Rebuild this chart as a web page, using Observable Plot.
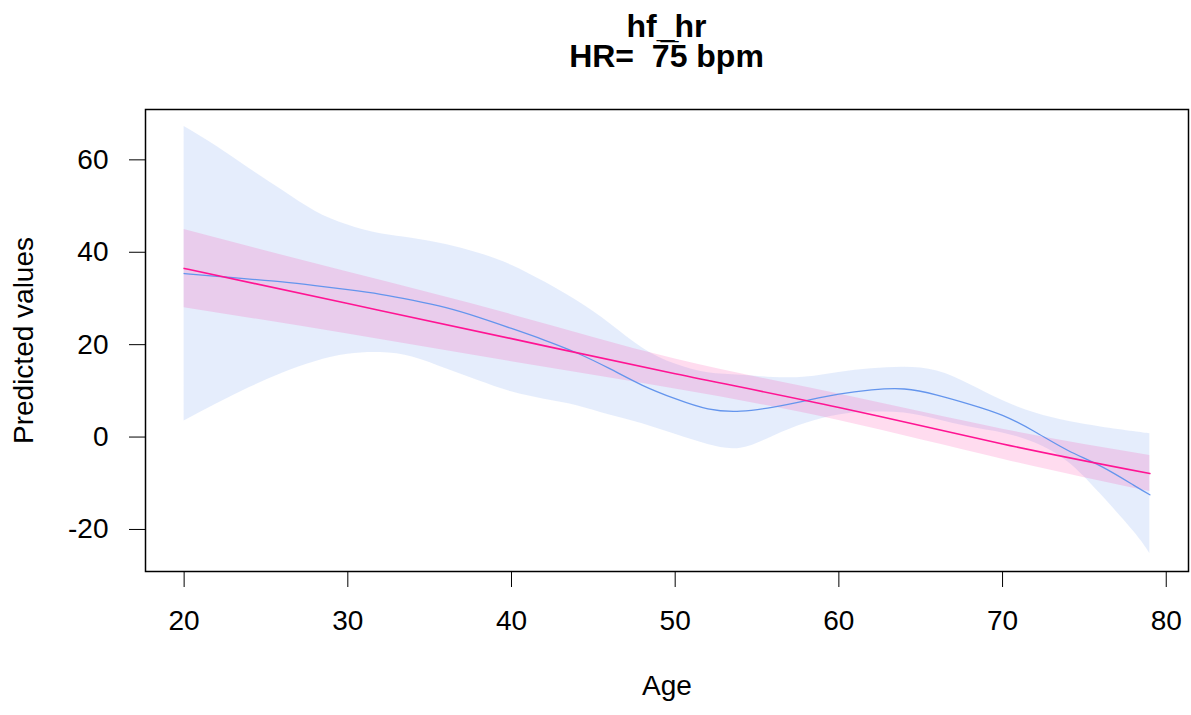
<!DOCTYPE html>
<html>
<head>
<meta charset="utf-8">
<script src="https://cdn.jsdelivr.net/npm/d3@7"></script>
<script src="https://cdn.jsdelivr.net/npm/@observablehq/plot@0.6"></script>
<style>
  html, body { margin: 0; padding: 0; background: #fff; }
  #wrap { position: relative; width: 1191px; height: 715px; font-family: "Liberation Sans", Arial, sans-serif; }
  #title { position: absolute; left: 145px; top: 11px; width: 1043px; text-align: center; font-weight: bold; font-size: 32px; line-height: 30px; color: #000; white-space: pre; }
  #chart { position: absolute; left: 0; top: 80px; }
</style>
</head>
<body>
<div id="wrap">
  <div id="title">hf_hr<br>HR=  7&#x0305;5 bpm</div>
  <div id="chart"></div>
</div>
<script>
// Smooth (spline) fit: ages, predicted values, confidence limits
const blueAge = [20,22,24,26,28,30,32,34,36,38,40,42,44,46,48,50,52,54,56,58,60,62,64,66,68,70,72,74,76,78,79];
const blueFit = [35.4,34.8,34.2,33.6,32.8,31.9,30.9,29.6,28.0,25.9,23.5,21.0,18.2,14.8,11.2,8.3,6.1,5.6,6.5,7.9,9.3,10.2,10.4,9.1,7.1,4.7,1.1,-2.9,-6.3,-10.4,-12.5];
const blueHi  = [67.2,62.9,58.1,53.4,48.9,45.9,44.0,43.0,41.7,39.8,37.2,33.6,29.5,24.6,19.3,15.8,13.9,13.4,12.9,13.0,14.0,14.8,15.1,14.3,11.4,7.9,5.2,3.4,2.2,1.2,0.7];
const blueLo  = [3.5,7.2,10.7,13.8,16.3,17.9,18.3,17.3,14.8,12.2,9.8,8.2,6.8,4.8,2.9,0.6,-1.6,-2.4,0.2,3.0,4.8,5.4,5.2,3.8,2.2,0.9,-1.3,-5.4,-12.4,-20.4,-25.2];

// Linear fit
const pinkAge = [20,30,40,50,60,70,79];
const pinkFit = [36.5,28.9,21.3,13.7,6.4,-1.5,-7.9];
const pinkHi  = [44.9,35.7,26.5,16.9,9.3,1.7,-4.0];
const pinkLo  = [28.0,22.3,16.3,10.4,3.6,-4.8,-11.8];

const xTicks = [20,30,40,50,60,70,80];
const yTicks = [-20,0,20,40,60];

const blue = blueAge.map((a,i) => ({age:a, fit:blueFit[i], hi:blueHi[i], lo:blueLo[i]}));
const pink = pinkAge.map((a,i) => ({age:a, fit:pinkFit[i], hi:pinkHi[i], lo:pinkLo[i]}));

const FS = 28;
const chart = Plot.plot({
  width: 1191, height: 635,
  marginLeft: 145, marginRight: 3, marginTop: 29, marginBottom: 144,
  x: {domain: [17.64, 81.36]},
  y: {domain: [-29.1, 70.9]},
  style: {fontFamily: "'Liberation Sans', Arial, sans-serif", fontSize: FS + "px", color: "#000", background: "#fff", overflow: "visible"},
  marks: [
    Plot.areaY(blue, {x: "age", y1: "lo", y2: "hi", fill: "#6495ED", fillOpacity: 0.17, curve: "natural"}),
    Plot.areaY(pink, {x: "age", y1: "lo", y2: "hi", fill: "#FF1493", fillOpacity: 0.15, curve: "natural"}),
    Plot.line(blue, {x: "age", y: "fit", stroke: "#6495ED", strokeWidth: 1.3, curve: "natural"}),
    Plot.line(pink, {x: "age", y: "fit", stroke: "#FF1493", strokeWidth: 1.6, curve: "natural"}),
    Plot.frame({stroke: "#000", strokeWidth: 1.5}),
    Plot.axisX({ticks: xTicks, tickSize: 16, tickPadding: 23, tickFormat: d => String(d), label: null, fontSize: FS, stroke: "#000"}),
    Plot.axisY({ticks: yTicks, tickSize: 16, tickPadding: 21, tickFormat: d => String(d), label: null, fontSize: FS, stroke: "#000"}),
    Plot.text(["Age"], {frameAnchor: "bottom", dy: 123, fontSize: FS, fill: "#000"}),
    Plot.text(["Predicted values"], {frameAnchor: "left", textAnchor: "middle", dx: -121, rotate: -90, fontSize: FS, fill: "#000"})
  ]
});
document.getElementById("chart").appendChild(chart);
</script>
</body>
</html>
